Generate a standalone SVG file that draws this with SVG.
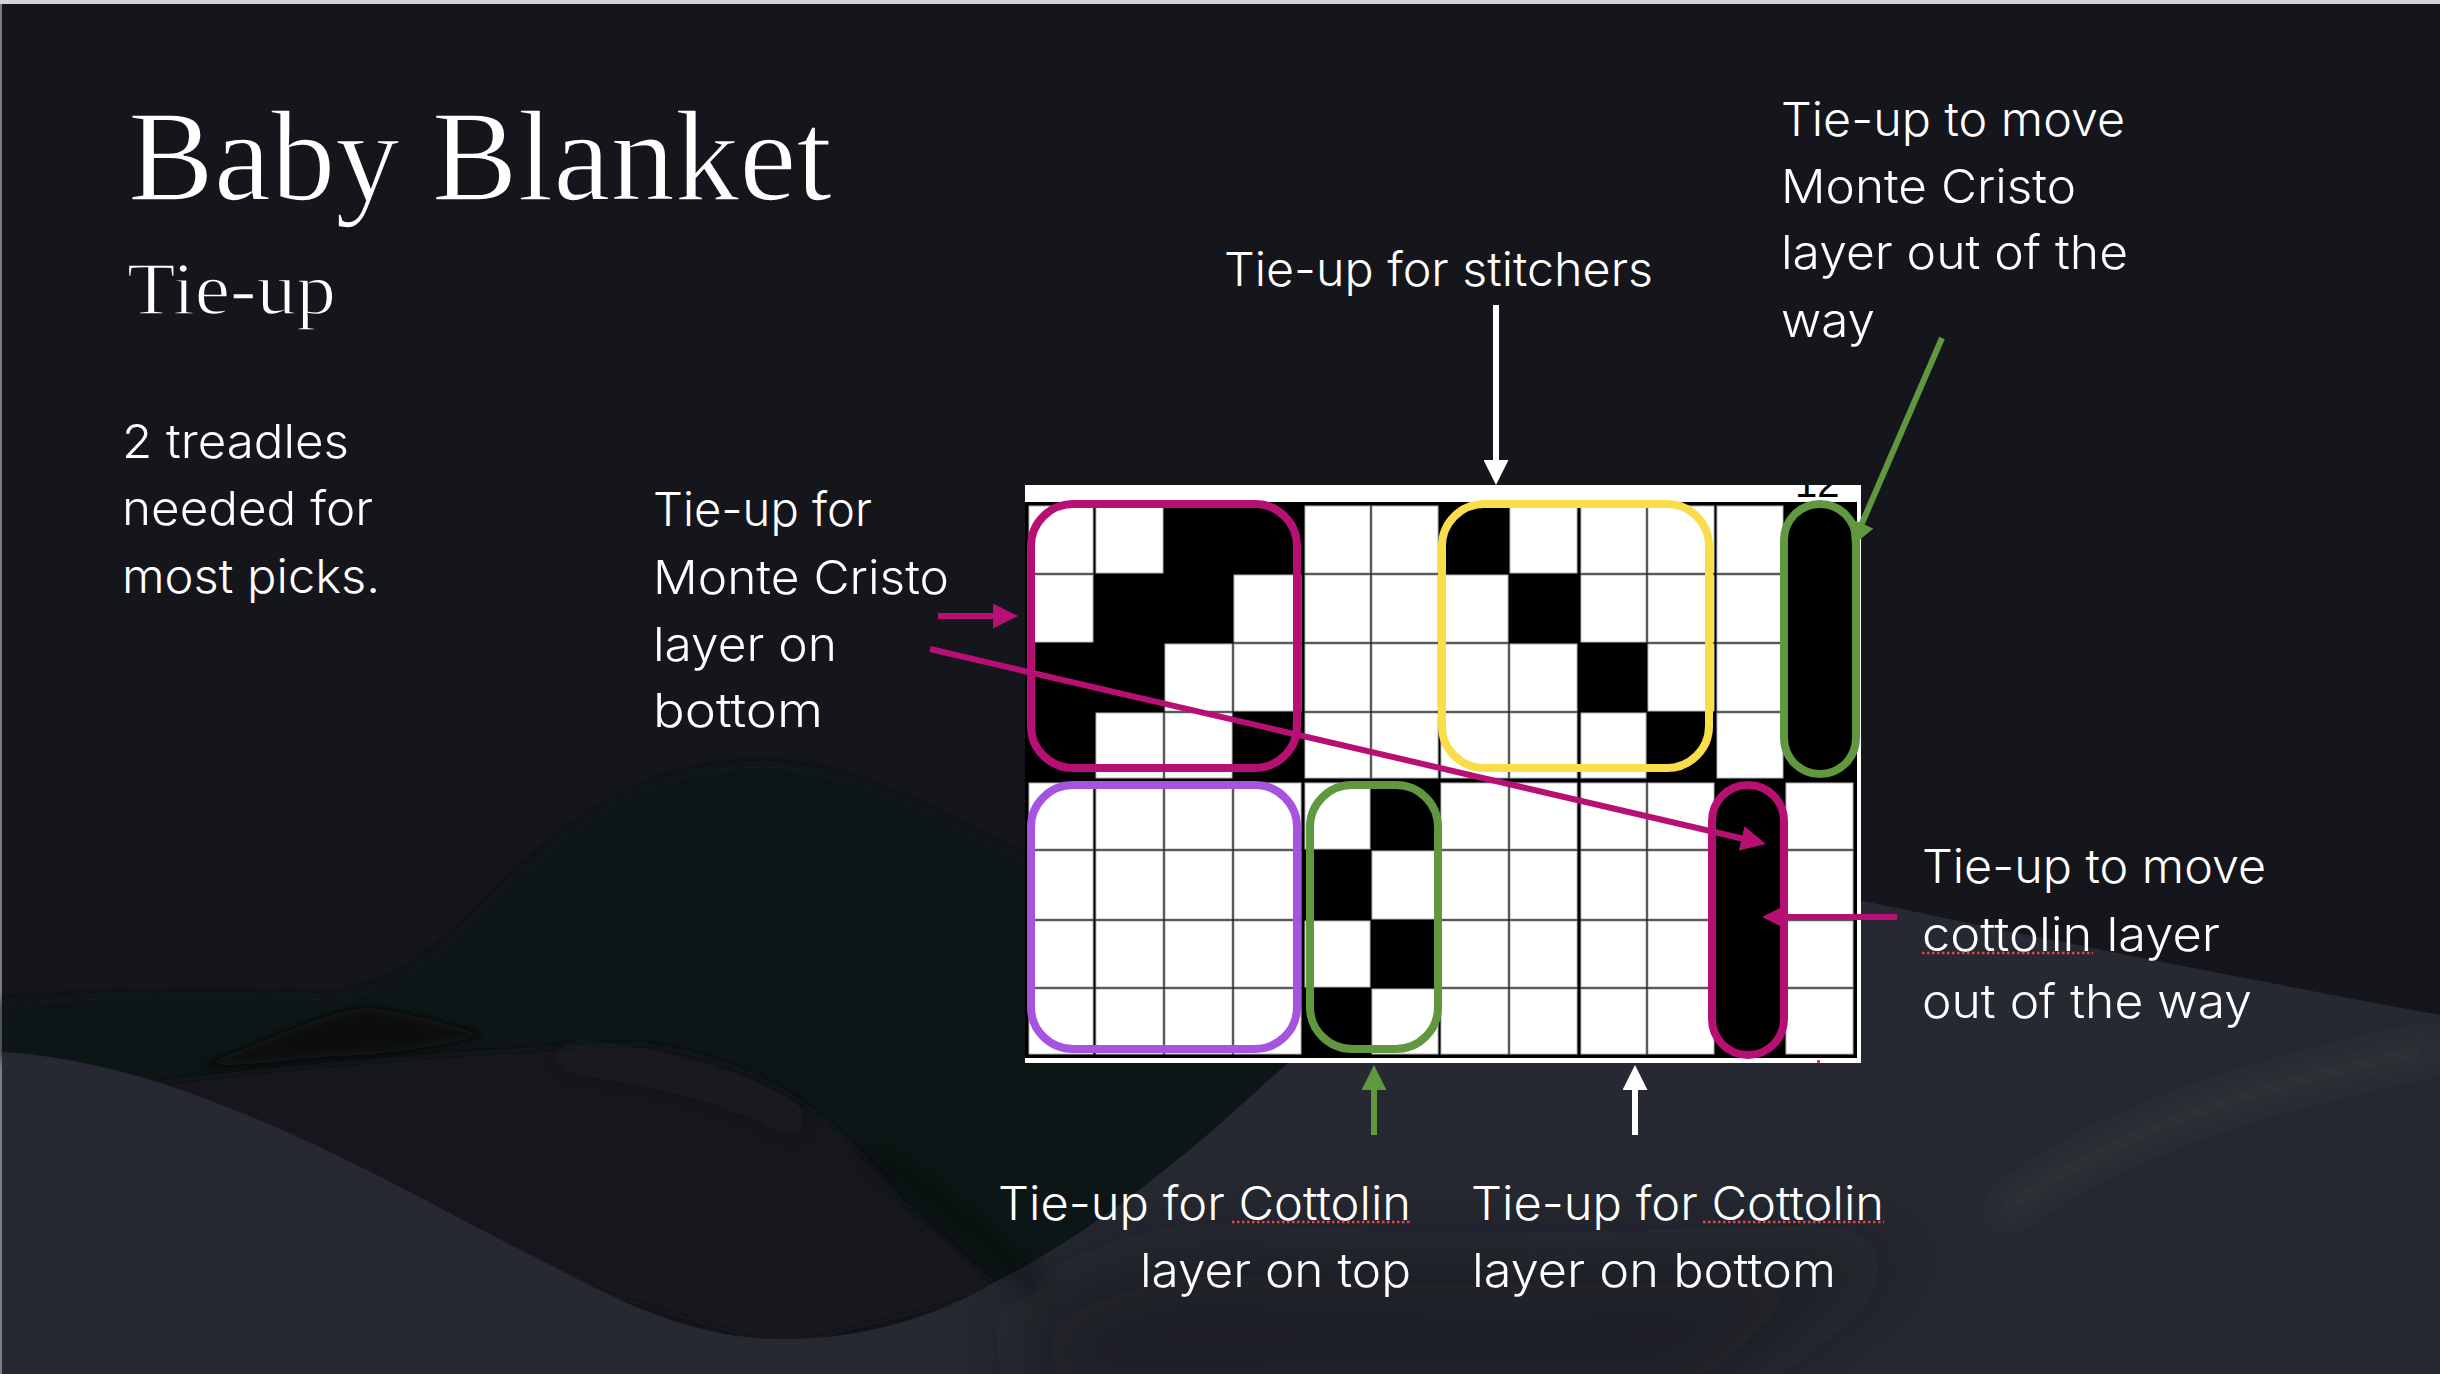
<svg xmlns="http://www.w3.org/2000/svg" width="2440" height="1374" viewBox="0 0 2440 1374">
<style>
.l{font-family:"Inter","Lato","Noto Sans",sans-serif;font-weight:300;font-size:47px;fill:#fff}
.s{font-family:"Liberation Serif",serif;fill:#fff;stroke:#15161b;paint-order:normal}
.c{fill:#fff;stroke:#b4b4b4;stroke-width:1}
.b{fill:none;stroke-width:8}
.a{fill:none;stroke-width:6}
.u{stroke:#e2463e;stroke-width:2.5;stroke-dasharray:2.5 2.5;fill:none}
</style>
<defs>
<marker id="hm" markerUnits="userSpaceOnUse" markerWidth="25" markerHeight="25" viewBox="0 0 25 25" refX="5" refY="12.5" orient="auto"><path d="M0 0L25 12.5L0 25z" fill="#b80f74"/></marker>
<marker id="hg" markerUnits="userSpaceOnUse" markerWidth="25" markerHeight="25" viewBox="0 0 25 25" refX="5" refY="12.5" orient="auto"><path d="M0 0L25 12.5L0 25z" fill="#5f983f"/></marker>
<marker id="hw" markerUnits="userSpaceOnUse" markerWidth="25" markerHeight="25" viewBox="0 0 25 25" refX="5" refY="12.5" orient="auto"><path d="M0 0L25 12.5L0 25z" fill="#fff"/></marker>
<filter id="bl" filterUnits="userSpaceOnUse" x="0" y="0" width="2440" height="1374"><feGaussianBlur stdDeviation="14"/></filter>
<filter id="bl2" filterUnits="userSpaceOnUse" x="0" y="0" width="2440" height="1374"><feGaussianBlur stdDeviation="40"/></filter>
<filter id="bl3" filterUnits="userSpaceOnUse" x="0" y="0" width="2440" height="1374"><feGaussianBlur stdDeviation="4"/></filter>
<clipPath id="num"><rect x="1780" y="485" width="70" height="17"/></clipPath>
<clipPath id="hillclip"><path d="M2 1052C100 1058 200 1090 332 1153C400 1185 470 1225 531 1255C600 1290 680 1339 783 1339C860 1339 930 1320 995 1282C1080 1240 1160 1175 1213 1130L1288 1063C1400 950 1620 880 1858 900C2050 940 2250 980 2440 1015V1374H2Z"/></clipPath>
</defs>
<g id="background">
<rect width="2440" height="1374" fill="#15161b"/>
<rect y="0" width="2440" height="4" fill="#d4d4d4"/>
<rect y="4" width="2" height="1370" fill="#7d7d80"/>
<path d="M2 1000C120 992 250 992 332 996C400 985 440 950 500 890C580 810 660 763 763 763C850 763 950 820 1040 867C1150 930 1300 1000 1400 1063L1000 1300L2 1060Z" fill="#111216" filter="url(#bl3)"/>
<path d="M150 1085C300 1065 500 1050 640 1045C760 1060 840 1120 900 1200L1000 1290L780 1345L300 1200Z" fill="#15161b" filter="url(#bl3)"/>
<path d="M199 1065C250 1050 320 1012 365 1008C410 1012 450 1025 484 1035C430 1048 370 1056 332 1056C290 1060 240 1066 199 1065Z" fill="#0e0f11" filter="url(#bl3)"/>
<path d="M2 1052C100 1058 200 1090 332 1153C400 1185 470 1225 531 1255C600 1290 680 1339 783 1339C860 1339 930 1320 995 1282C1080 1240 1160 1175 1213 1130L1288 1063C1400 950 1620 880 1858 900C2050 940 2250 980 2440 1015V1374H2Z" fill="#262931"/>
<g clip-path="url(#hillclip)">
<path d="M1690 1420C1780 1340 1860 1290 1920 1245C1850 1250 1500 1270 1250 1250C1150 1240 1080 1280 1010 1320L1040 1420Z" fill="#14151a" opacity=".5" filter="url(#bl2)"/>
<path d="M2000 1215C2080 1150 2220 1090 2440 1048" fill="none" stroke="#3b3b41" stroke-width="12" filter="url(#bl)"/>
</g>
<path d="M560 1055C650 1065 740 1085 800 1125" fill="none" stroke="#212328" stroke-width="10" filter="url(#bl)"/>
<path d="M870 1150C930 1190 990 1240 1040 1290" fill="none" stroke="#0e0f11" stroke-width="8" filter="url(#bl)"/>
</g>
<g id="title">
<text class="s" x="128" y="200" font-size="130" stroke-width="1.6" textLength="704" lengthAdjust="spacingAndGlyphs">Baby Blanket</text>
<text class="s" x="127" y="314" font-size="74" stroke-width="1.5" textLength="209" lengthAdjust="spacingAndGlyphs">Tie-up</text>
</g>
<g id="note-treadles">
<text class="l" x="122" y="458" textLength="227" lengthAdjust="spacingAndGlyphs">2 treadles</text>
<text class="l" x="122" y="525" textLength="251" lengthAdjust="spacingAndGlyphs">needed for</text>
<text class="l" x="122" y="593" textLength="258" lengthAdjust="spacingAndGlyphs">most picks.</text>
</g>
<g id="grid">
<rect x="1025" y="485" width="836" height="578" fill="#fff"/>
<rect x="1025" y="502" width="832" height="556" fill="#000"/>
<text clip-path="url(#num)" x="1795" y="497" font-family="Liberation Sans, sans-serif" font-size="40" fill="#000">12</text>
<rect class="c" x="1029" y="506" width="64" height="67"/><rect class="c" x="1096" y="506" width="67" height="67"/><rect class="c" x="1305" y="506" width="65" height="67"/><rect class="c" x="1372" y="506" width="66" height="67"/><rect class="c" x="1510" y="506" width="67" height="67"/><rect class="c" x="1581" y="506" width="65" height="67"/><rect class="c" x="1648" y="506" width="66" height="67"/><rect class="c" x="1717" y="506" width="66" height="67"/>
<rect class="c" x="1029" y="575" width="64" height="67"/><rect class="c" x="1234" y="575" width="67" height="67"/><rect class="c" x="1305" y="575" width="65" height="67"/><rect class="c" x="1372" y="575" width="66" height="67"/><rect class="c" x="1441" y="575" width="67" height="67"/><rect class="c" x="1581" y="575" width="65" height="67"/><rect class="c" x="1648" y="575" width="66" height="67"/><rect class="c" x="1717" y="575" width="66" height="67"/>
<rect class="c" x="1165" y="644" width="67" height="67"/><rect class="c" x="1234" y="644" width="67" height="67"/><rect class="c" x="1305" y="644" width="65" height="67"/><rect class="c" x="1372" y="644" width="66" height="67"/><rect class="c" x="1441" y="644" width="67" height="67"/><rect class="c" x="1510" y="644" width="67" height="67"/><rect class="c" x="1648" y="644" width="66" height="67"/><rect class="c" x="1717" y="644" width="66" height="67"/>
<rect class="c" x="1096" y="713" width="67" height="65"/><rect class="c" x="1165" y="713" width="67" height="65"/><rect class="c" x="1305" y="713" width="65" height="65"/><rect class="c" x="1372" y="713" width="66" height="65"/><rect class="c" x="1441" y="713" width="67" height="65"/><rect class="c" x="1510" y="713" width="67" height="65"/><rect class="c" x="1581" y="713" width="65" height="65"/><rect class="c" x="1717" y="713" width="66" height="65"/>
<rect class="c" x="1029" y="783" width="64" height="66"/><rect class="c" x="1096" y="783" width="67" height="66"/><rect class="c" x="1165" y="783" width="67" height="66"/><rect class="c" x="1234" y="783" width="67" height="66"/><rect class="c" x="1305" y="783" width="65" height="66"/><rect class="c" x="1441" y="783" width="67" height="66"/><rect class="c" x="1510" y="783" width="67" height="66"/><rect class="c" x="1581" y="783" width="65" height="66"/><rect class="c" x="1648" y="783" width="66" height="66"/><rect class="c" x="1786" y="783" width="67" height="66"/>
<rect class="c" x="1029" y="851" width="64" height="68"/><rect class="c" x="1096" y="851" width="67" height="68"/><rect class="c" x="1165" y="851" width="67" height="68"/><rect class="c" x="1234" y="851" width="67" height="68"/><rect class="c" x="1372" y="851" width="66" height="68"/><rect class="c" x="1441" y="851" width="67" height="68"/><rect class="c" x="1510" y="851" width="67" height="68"/><rect class="c" x="1581" y="851" width="65" height="68"/><rect class="c" x="1648" y="851" width="66" height="68"/><rect class="c" x="1786" y="851" width="67" height="68"/>
<rect class="c" x="1029" y="921" width="64" height="66"/><rect class="c" x="1096" y="921" width="67" height="66"/><rect class="c" x="1165" y="921" width="67" height="66"/><rect class="c" x="1234" y="921" width="67" height="66"/><rect class="c" x="1305" y="921" width="65" height="66"/><rect class="c" x="1441" y="921" width="67" height="66"/><rect class="c" x="1510" y="921" width="67" height="66"/><rect class="c" x="1581" y="921" width="65" height="66"/><rect class="c" x="1648" y="921" width="66" height="66"/><rect class="c" x="1786" y="921" width="67" height="66"/>
<rect class="c" x="1029" y="989" width="64" height="65"/><rect class="c" x="1096" y="989" width="67" height="65"/><rect class="c" x="1165" y="989" width="67" height="65"/><rect class="c" x="1234" y="989" width="67" height="65"/><rect class="c" x="1372" y="989" width="66" height="65"/><rect class="c" x="1441" y="989" width="67" height="65"/><rect class="c" x="1510" y="989" width="67" height="65"/><rect class="c" x="1581" y="989" width="65" height="65"/><rect class="c" x="1648" y="989" width="66" height="65"/><rect class="c" x="1786" y="989" width="67" height="65"/>
<rect x="1817" y="1060" width="3" height="3" fill="#e2463e"/>
</g>
<g id="highlight-monte-bottom"><rect class="b" x="1031" y="504" width="266" height="264" rx="42" stroke="#b80f74"/></g>
<g id="highlight-stitchers"><rect class="b" x="1442" y="504" width="267" height="264" rx="42" stroke="#fbdd4b"/></g>
<g id="highlight-monte-away"><rect class="b" x="1784" y="504" width="72" height="270" rx="36" stroke="#5f983f"/></g>
<g id="highlight-cottolin-bottom"><rect class="b" x="1031" y="785" width="266" height="264" rx="42" stroke="#a653e0"/></g>
<g id="highlight-cottolin-top"><rect class="b" x="1310" y="785" width="128" height="264" rx="42" stroke="#5f983f"/></g>
<g id="highlight-cottolin-away"><rect class="b" x="1712" y="785" width="72" height="270" rx="36" stroke="#b80f74"/></g>
<g id="connectors">
<path class="a" d="M938 616H998" stroke="#b80f74" marker-end="url(#hm)"/>
<path class="a" d="M930 649L1746.500 839.500" stroke="#b80f74" marker-end="url(#hm)"/>
<path class="a" d="M1897 917H1782" stroke="#b80f74" marker-end="url(#hm)"/>
<path class="a" d="M1942 338L1860 528" stroke="#5f983f" marker-end="url(#hg)"/>
<path class="a" d="M1496 305V465" stroke="#fff" marker-end="url(#hw)"/>
<path class="a" d="M1374 1135V1085" stroke="#5f983f" marker-end="url(#hg)"/>
<path class="a" d="M1635 1135V1085" stroke="#fff" marker-end="url(#hw)"/>
</g>
<g id="label-stitchers"><text class="l" x="1224" y="286" textLength="429" lengthAdjust="spacingAndGlyphs">Tie-up for stitchers</text></g>
<g id="label-monte-away">
<text class="l" x="1781" y="136" textLength="344" lengthAdjust="spacingAndGlyphs">Tie-up to move</text>
<text class="l" x="1781" y="203" textLength="295" lengthAdjust="spacingAndGlyphs">Monte Cristo</text>
<text class="l" x="1781" y="269" textLength="347" lengthAdjust="spacingAndGlyphs">layer out of the</text>
<text class="l" x="1781" y="337" textLength="94" lengthAdjust="spacingAndGlyphs">way</text>
</g>
<g id="label-monte-bottom">
<text class="l" x="653" y="526" textLength="219" lengthAdjust="spacingAndGlyphs">Tie-up for</text>
<text class="l" x="653" y="594" textLength="296" lengthAdjust="spacingAndGlyphs">Monte Cristo</text>
<text class="l" x="653" y="661" textLength="184" lengthAdjust="spacingAndGlyphs">layer on</text>
<text class="l" x="653" y="727" textLength="170" lengthAdjust="spacingAndGlyphs">bottom</text>
</g>
<g id="label-cottolin-away">
<text class="l" x="1922" y="883" textLength="344" lengthAdjust="spacingAndGlyphs">Tie-up to move</text>
<text class="l" x="1922" y="951" textLength="298" lengthAdjust="spacingAndGlyphs">cottolin layer</text>
<text class="l" x="1922" y="1018" textLength="330" lengthAdjust="spacingAndGlyphs">out of the way</text>
<path class="u" d="M1922 953H2093"/>
</g>
<g id="label-cottolin-top">
<text class="l" x="998" y="1220" textLength="413" lengthAdjust="spacingAndGlyphs">Tie-up for Cottolin</text>
<text class="l" x="1140" y="1287" textLength="271" lengthAdjust="spacingAndGlyphs">layer on top</text>
<path class="u" d="M1232 1222H1411"/>
</g>
<g id="label-cottolin-bottom">
<text class="l" x="1471" y="1220" textLength="413" lengthAdjust="spacingAndGlyphs">Tie-up for Cottolin</text>
<text class="l" x="1472" y="1287" textLength="364" lengthAdjust="spacingAndGlyphs">layer on bottom</text>
<path class="u" d="M1703 1222H1884"/>
</g>
</svg>
